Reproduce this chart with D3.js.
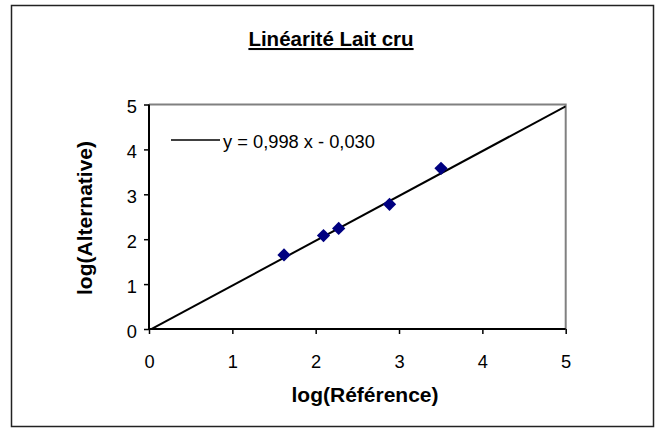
<!DOCTYPE html>
<html>
<head>
<meta charset="utf-8">
<script src="https://cdn.jsdelivr.net/npm/d3@7"></script>
<style>
  body { margin: 0; background: #fff; }
  svg { display: block; font-family: "Liberation Sans", Arial, sans-serif; }
</style>
</head>
<body>
<svg id="chart" width="655" height="428"></svg>
<script>
// data
var refValues = [1.62, 2.094, 2.276, 2.886, 3.504];
var altValues = [1.65, 2.08, 2.24, 2.777, 3.58];
var xTicks = [0, 1, 2, 3, 4, 5];
var yTicks = [0, 1, 2, 3, 4, 5];
var trendSlope = 0.998;
var trendIntercept = -0.030;
var trendLabel = "y = 0,998 x - 0,030";

var svg = d3.select("#chart");

// outer frame
svg.append("rect")
  .attr("x", 11.5).attr("y", 5.5)
  .attr("width", 642).attr("height", 421)
  .attr("fill", "#fff")
  .attr("stroke", "#222")
  .attr("stroke-width", 1.5);

var plotLeft = 149, plotRight = 565.7, plotTop = 104.5, plotBottom = 329;

var x = d3.scaleLinear().domain([0, 5]).range([plotLeft, plotRight]);
var y = d3.scaleLinear().domain([0, 5]).range([plotBottom, plotTop]);

// plot area top/right border (grey)
svg.append("path")
  .attr("d", "M" + plotLeft + "," + plotTop + "H" + plotRight + "V" + plotBottom)
  .attr("fill", "none")
  .attr("stroke", "#808080")
  .attr("stroke-width", 2);

// axes
var xAxis = svg.append("g")
  .attr("transform", "translate(0," + plotBottom + ")")
  .call(d3.axisBottom(x).tickValues(xTicks).tickSize(5).tickPadding(21).tickFormat(d3.format("d")));
var yAxis = svg.append("g")
  .attr("transform", "translate(" + plotLeft + ",0)")
  .call(d3.axisLeft(y).tickValues(yTicks).tickSize(5).tickPadding(7).tickFormat(d3.format("d")));

[xAxis, yAxis].forEach(function(g) {
  g.attr("font-size", 18.3).attr("font-family", "Liberation Sans, Arial, sans-serif");
  g.select(".domain").attr("stroke", "#000").attr("stroke-width", 2);
  g.selectAll(".tick line").attr("stroke", "#000").attr("stroke-width", 1.5);
  g.selectAll(".tick text").attr("fill", "#000");
});
yAxis.selectAll(".tick text").attr("dy", "0.45em");
xAxis.select(".domain").attr("d", "M" + plotLeft + ",0H" + plotRight);
yAxis.select(".domain").attr("d", "M0," + plotBottom + "V" + plotTop);

// trend line, clipped to plot area
svg.append("clipPath").attr("id", "plotClip")
  .append("rect")
  .attr("x", plotLeft).attr("y", plotTop - 1)
  .attr("width", plotRight - plotLeft).attr("height", plotBottom - plotTop + 1);

svg.append("line")
  .attr("clip-path", "url(#plotClip)")
  .attr("x1", x(0)).attr("y1", y(trendIntercept))
  .attr("x2", x(5)).attr("y2", y(trendSlope * 5 + trendIntercept))
  .attr("stroke", "#000")
  .attr("stroke-width", 2);

// points (diamonds)
var diamond = d3.symbol().type(d3.symbolSquare).size(88);
svg.selectAll(".pt")
  .data(refValues)
  .enter().append("path")
  .attr("class", "pt")
  .attr("d", diamond)
  .attr("transform", function(d, i) {
    return "translate(" + x(d) + "," + y(altValues[i]) + ") rotate(45)";
  })
  .attr("fill", "#000080");

// legend
svg.append("line")
  .attr("x1", 171).attr("y1", 140)
  .attr("x2", 220).attr("y2", 140)
  .attr("stroke", "#000").attr("stroke-width", 1.5);
svg.append("text")
  .attr("x", 223).attr("y", 148)
  .attr("font-size", 18.3)
  .attr("fill", "#000")
  .text(trendLabel);

// title
svg.append("text")
  .attr("x", 331).attr("y", 46)
  .attr("text-anchor", "middle")
  .attr("font-size", 20.5)
  .attr("font-weight", "bold")
  .attr("text-decoration", "underline")
  .attr("fill", "#000")
  .text("Linéarité Lait cru");

// axis titles
svg.append("text")
  .attr("x", 365).attr("y", 402)
  .attr("text-anchor", "middle")
  .attr("font-size", 21)
  .attr("font-weight", "bold")
  .attr("fill", "#000")
  .text("log(Référence)");

svg.append("text")
  .attr("transform", "translate(92,218) rotate(-90)")
  .attr("text-anchor", "middle")
  .attr("font-size", 21)
  .attr("font-weight", "bold")
  .attr("fill", "#000")
  .text("log(Alternative)");
</script>
</body>
</html>
